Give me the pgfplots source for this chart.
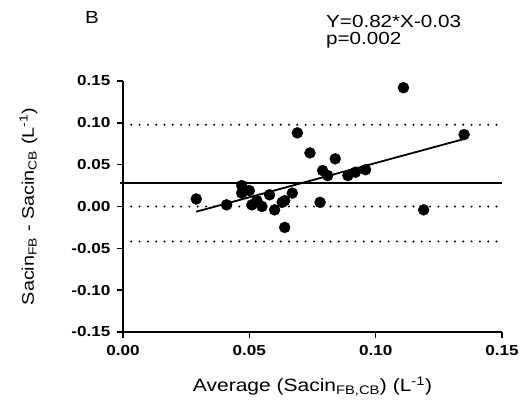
\documentclass[border=0pt]{standalone}
\usepackage{fontspec}
\setmainfont{Liberation Sans}[FakeStretch=1.18]
\usepackage{pgfplots}
\pgfplotsset{compat=1.18}
\begin{document}
\begin{tikzpicture}
\begin{axis}[
  at={(0pt,0pt)}, anchor=south west,
  scale only axis, width=379pt, height=251pt,
  xmin=0, xmax=0.15, ymin=-0.15, ymax=0.15,
  axis x line=bottom, axis y line=left,
  axis line style={line width=1.6pt, -},
  xtick={0,0.05,0.1,0.15},
  xticklabels={0.00,0.05,0.10,0.15},
  ytick={-0.15,-0.1,-0.05,0,0.05,0.1,0.15},
  yticklabels={-0.15,-0.10,-0.05,0.00,0.05,0.10,0.15},
  tick style={line width=1.6pt, black},
  major tick length=6pt,
  tick align=outside,
  ticklabel style={font=\fontsize{14.5}{17}\selectfont\bfseries},
  xticklabel style={yshift=-4pt},
  yticklabel style={xshift=-3pt},
  xlabel={Average (Sacin\textsubscript{FB,CB}) (L\textsuperscript{-1})},
  ylabel={Sacin\textsubscript{FB} - Sacin\textsubscript{CB} (L\textsuperscript{-1})},
  xlabel style={at={(axis description cs:0.5,-0.239)}, anchor=base, font=\fontsize{17.8}{20}\selectfont},
  ylabel style={at={(axis description cs:-0.235,0.5)}, anchor=base, font=\fontsize{16.8}{20}\selectfont},
  clip=false,
]
\addplot[black, line width=2.2pt, dash pattern=on 0pt off 8.3pt, line cap=round] coordinates {(0,0.0977) (0.15,0.0977)};
\addplot[black, line width=2.2pt, dash pattern=on 0pt off 8.3pt, line cap=round] coordinates {(0,0) (0.15,0)};
\addplot[black, line width=2.2pt, dash pattern=on 0pt off 8.3pt, line cap=round] coordinates {(0,-0.0418) (0.15,-0.0418)};
\addplot[black, line width=1.8pt] coordinates {(-0.001,0.0279) (0.15,0.0279)};
\addplot[black, line width=1.8pt] coordinates {(0.029,-0.0062) (0.135,0.0807)};
\addplot[only marks, mark=*, mark size=5.5pt, black] coordinates {
(0.029,0.009) (0.041,0.002) (0.047,0.025) (0.047,0.016) (0.050,0.019)
(0.051,0.002) (0.053,0.007) (0.055,0.000) (0.058,0.014) (0.060,-0.004)
(0.063,0.005) (0.064,0.007) (0.064,-0.025) (0.067,0.016) (0.069,0.088)
(0.074,0.064) (0.078,0.005) (0.079,0.043) (0.081,0.037) (0.084,0.057)
(0.089,0.037) (0.092,0.041) (0.096,0.044) (0.111,0.142) (0.119,-0.004)
(0.135,0.086)
};
\end{axis}
\node[anchor=base west, inner sep=0pt, font=\fontsize{17.5}{19}\selectfont] at (-38pt,308.7pt) {B};
\node[anchor=base west, inner sep=0pt, font=\fontsize{17.5}{17}\selectfont] at (203pt,304.7pt) {Y=0.82*X-0.03};
\node[anchor=base west, inner sep=0pt, font=\fontsize{17.5}{17}\selectfont] at (203pt,287.7pt) {p=0.002};
\pgfresetboundingbox
\path[use as bounding box] (-123pt,-76pt) rectangle (405pt,332pt);
\end{tikzpicture}
\end{document}
